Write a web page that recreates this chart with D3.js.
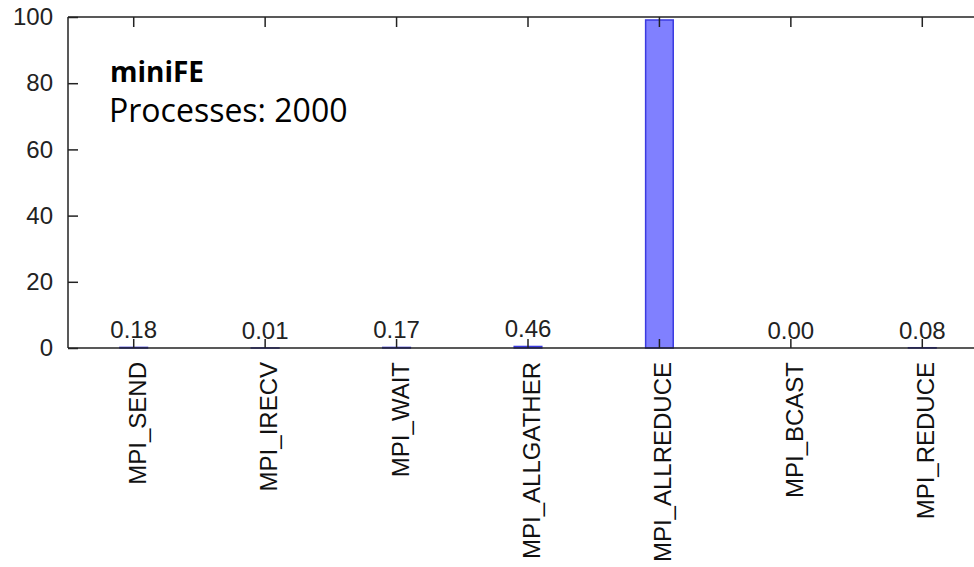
<!DOCTYPE html>
<html><head><meta charset="utf-8">
<script src="https://cdn.jsdelivr.net/npm/d3@7"></script>
<style>body{margin:0;background:#fff}svg{display:block}</style>
</head><body>
<script>
const categories = ["MPI_SEND","MPI_IRECV","MPI_WAIT","MPI_ALLGATHER","MPI_ALLREDUCE","MPI_BCAST","MPI_REDUCE"];
const values = [0.18, 0.01, 0.17, 0.46, 99.10, 0.00, 0.08];
// the label of the tallest bar lies above the plot and is not visible in the chart
const valueLabels = ["0.18","0.01","0.17","0.46","","0.00","0.08"];
const yTicks = [0, 20, 40, 60, 80, 100];
const titleText = "miniFE";
const subtitleText = "Processes: 2000";

const W = 974, H = 567;
const svg = d3.select("body").append("svg").attr("width", W).attr("height", H);
const pL = 68, pT = 17, pB = 348, pR = 988;

const x = d3.scaleBand().domain(categories).range([pL, pR]).paddingInner(0.79).paddingOuter(0.395);
const y = d3.scaleLinear().domain([0, 100]).range([pB, pT]);
const cx = d => x(d) + x.bandwidth() / 2;

const axisFont = "'Liberation Sans', Arial, sans-serif";

// bars
svg.append("g").selectAll("rect").data(categories).join("rect")
  .attr("x", d => x(d))
  .attr("y", (d, i) => y(values[i]))
  .attr("width", x.bandwidth())
  .attr("height", (d, i) => Math.max(0, pB - y(values[i])))
  .attr("fill", "#8080ff")
  .attr("stroke", "#3a3ae0")
  .attr("stroke-width", 1.5);

// value labels
svg.append("g").selectAll("text").data(categories.filter((d, i) => valueLabels[i] !== "")).join("text")
  .attr("x", d => cx(d))
  .attr("y", d => y(values[categories.indexOf(d)]) - 9)
  .attr("text-anchor", "middle")
  .attr("font-family", axisFont)
  .attr("font-size", 24)
  .attr("fill", "#222")
  .text(d => valueLabels[categories.indexOf(d)]);

// frame lines
svg.append("line").attr("x1", pL).attr("x2", W).attr("y1", pT).attr("y2", pT).attr("stroke", "#222").attr("stroke-width", 1.5);
svg.append("line").attr("x1", pL).attr("x2", W).attr("y1", pB).attr("y2", pB).attr("stroke", "#222").attr("stroke-width", 1.5);
svg.append("line").attr("x1", pL).attr("x2", pL).attr("y1", pT).attr("y2", pB).attr("stroke", "#222").attr("stroke-width", 1.5);

// left axis
const yAxis = d3.axisLeft(y).tickValues(yTicks).tickSize(-10).tickPadding(15).tickFormat(d3.format("d"));
const gy = svg.append("g").attr("transform", `translate(${pL},0)`).call(yAxis);
gy.select(".domain").remove();
gy.selectAll("line").attr("stroke", "#222").attr("stroke-width", 1.5);
gy.selectAll("text").attr("font-family", axisFont).attr("font-size", 24).attr("fill", "#222");

// top & bottom ticks at category centers
const xb = d3.axisBottom(x).tickSize(-9).tickFormat("");
const gb = svg.append("g").attr("transform", `translate(0,${pB})`).call(xb);
gb.select(".domain").remove();
gb.selectAll("line").attr("stroke", "#222").attr("stroke-width", 1.5);
const xt = d3.axisTop(x).tickSize(-10).tickFormat("");
const gt = svg.append("g").attr("transform", `translate(0,${pT})`).call(xt);
gt.select(".domain").remove();
gt.selectAll("line").attr("stroke", "#222").attr("stroke-width", 1.5);

// rotated category labels
svg.append("g").selectAll("text").data(categories).join("text")
  .attr("transform", d => `translate(${cx(d) + 12},362) rotate(-90)`)
  .attr("text-anchor", "end")
  .attr("font-family", axisFont)
  .attr("font-size", 24)
  .attr("fill", "#111")
  .text(d => d);

// title
svg.append("text").attr("x", 110).attr("y", 82)
  .attr("font-family", "'Open Sans', sans-serif").attr("font-weight", "bold").attr("font-size", 28)
  .attr("fill", "#000").text(titleText);
svg.append("text").attr("x", 109).attr("y", 122)
  .attr("font-family", "'Open Sans', sans-serif").attr("font-size", 32)
  .attr("fill", "#000").text(subtitleText);
</script>
</body></html>
